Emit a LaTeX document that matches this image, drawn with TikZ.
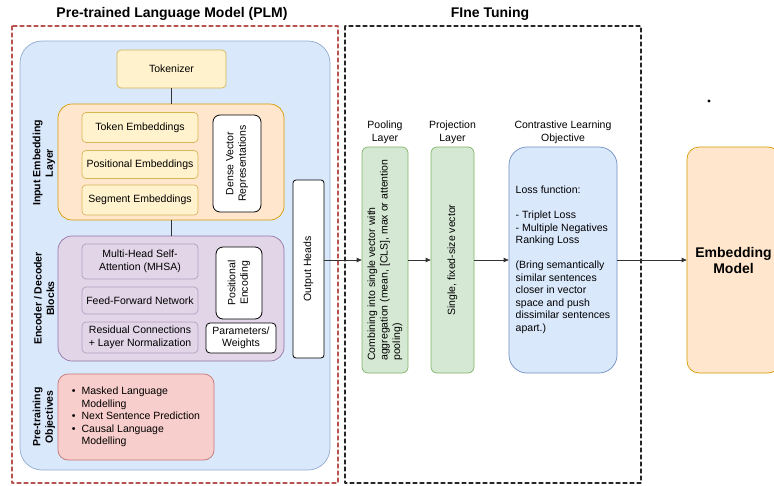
\documentclass[tikz,border=0pt]{standalone}
\usepackage{fontspec}
\setmainfont{Liberation Sans}
\usepackage{graphicx}
\usetikzlibrary{arrows.meta, positioning}
\definecolor{plmblue}{HTML}{DAE8FC}
\definecolor{plmline}{HTML}{6C8EBF}
\definecolor{tokyellow}{HTML}{FFF2CC}
\definecolor{tokline}{HTML}{D6B656}
\definecolor{embpeach}{HTML}{FFE6CC}
\definecolor{embline}{HTML}{D79B00}
\definecolor{encpurple}{HTML}{E1D5E7}
\definecolor{encline}{HTML}{9673A6}
\definecolor{objred}{HTML}{F8CECC}
\definecolor{objline}{HTML}{B85450}
\definecolor{poolgreen}{HTML}{D5E8D4}
\definecolor{poolline}{HTML}{82B366}
\newcommand{\vtext}[1]{\rotatebox{90}{\begin{tabular}{@{}c@{}}#1\end{tabular}}}
\newcommand{\vtextl}[1]{\rotatebox{90}{\begin{tabular}{@{}l@{}}#1\end{tabular}}}

\begin{document}
\begin{tikzpicture}[x=1pt, y=-1pt, line cap=round, line join=round, >={Triangle[length=5pt,width=4.5pt]},
	every node/.style={font=\fontsize{10.5}{12.5}\selectfont},
	box/.style={draw, rounded corners=4pt, inner sep=1pt, align=center, line width=0.7pt},
	ybox/.style={box, fill=tokyellow, draw=tokline},
	obox/.style={box, fill=embpeach, draw=embline, rounded corners=14pt},
	pbox/.style={box, fill=encpurple, draw=encline, rounded corners=14pt},
	pinbox/.style={box, fill=encpurple, draw=encline!70},
	wbox/.style={box, fill=white, draw=black, line width=0.8pt},
	rbox/.style={box, fill=objred, draw=objline!80},
	gbox/.style={box, fill=poolgreen, draw=poolline, rounded corners=6pt},
	bbox/.style={box, fill=plmblue, draw=plmline, rounded corners=18pt},
	title/.style={font=\fontsize{14}{16}\selectfont\bfseries},
	sidelabel/.style={rotate=90, align=center, font=\fontsize{10.5}{12.5}\selectfont\bfseries},
	toplabel/.style={align=center, inner sep=1pt},
	flow/.style={->, black!80, line width=0.7pt}]
	\useasboundingbox (0,0) rectangle (774,485);
	\clip (0,0) rectangle (774,485);

	% frames and titles
	\draw[objline, line width=1.2pt, dash pattern=on 4pt off 3pt] (12,26) rectangle (338,483);
	\draw[black!85, line width=1.2pt, dash pattern=on 4pt off 3pt] (345,26) rectangle (641,483);
	\draw[fill=plmblue, draw=plmline!75, rounded corners=22pt, line width=0.7pt] (20,41) rectangle (330,470);
	\node[title] (plmtitle) at (172,14) {Pre-trained Language Model (PLM)};
	\node[title] (fttitle) at (490,14) {FIne Tuning};

	% tokenizer and input embedding layer
	\node[ybox, minimum width=109pt, minimum height=38pt] (tok) at (171.5,69) {Tokenizer};
	\node[obox, minimum width=226pt, minimum height=116pt] (inemb) at (171,162) {};
	\node[ybox, minimum width=116pt, minimum height=30pt] (tokemb) at (140,127.5) {Token Embeddings};
	\node[ybox, minimum width=116pt, minimum height=28pt] (posemb) at (140,164.5) {Positional Embeddings};
	\node[ybox, minimum width=116pt, minimum height=30pt] (segemb) at (140,200) {Segment Embeddings};
	\node[wbox, minimum width=48pt, minimum height=97pt, rounded corners=7pt] (dense) at (237,163.5) {\vtext{Dense Vector\\Representations}};
	\node[sidelabel] (inlabel) at (44,163) {Input Embedding\\Layer};

	% encoder / decoder blocks
	\node[pbox, minimum width=226pt, minimum height=125pt] (enc) at (171,298.5) {};
	\node[pinbox, minimum width=116pt, minimum height=35pt] (mhsa) at (140,261.5) {Multi-Head Self-\\Attention (MHSA)};
	\node[pinbox, minimum width=116pt, minimum height=27pt] (ffn) at (140,300.5) {Feed-Forward Network};
	\node[pinbox, minimum width=116pt, minimum height=31pt] (resnorm) at (140,337.5) {Residual Connections\\+ Layer Normalization};
	\node[wbox, minimum width=46pt, minimum height=72pt, rounded corners=7pt] (posenc) at (239,283) {\vtext{Positional\\Encoding}};
	\node[wbox, minimum width=70pt, minimum height=30pt] (params) at (241,338) {Parameters/\\Weights};
	\node[sidelabel] (enclabel) at (44,298.5) {Encoder / Decoder\\Blocks};

	% pre-training objectives
	\node[rbox, minimum width=156pt, minimum height=86pt, rounded corners=10pt] (pretr) at (136,417) {\begin{tabular}{@{}l@{\hspace{6pt}}l@{}}\textbullet & Masked Language\\ & Modelling\\ \textbullet & Next Sentence Prediction\\ \textbullet & Causal Language\\ & Modelling\end{tabular}};
	\node[sidelabel] (prelabel) at (44,417) {Pre-training\\Objectives};

	\node[wbox, minimum width=31pt, minimum height=178pt, rounded corners=3pt] (outh) at (308.5,269) {\vtext{Output Heads}};

	% fine tuning
	\node[gbox, minimum width=46pt, minimum height=226pt] (pool) at (385,260) {\vtextl{Combining into single vector with\\aggregation (mean, [CLS], max or attention\\pooling)}};
	\node[gbox, minimum width=43pt, minimum height=226pt] (proj) at (452.5,260) {\vtext{Single, fixed-size vector}};
	\node[bbox, minimum width=108pt, minimum height=226pt, align=left] (contr) at (563,260) {Loss function:\\[12.5pt]- Triplet Loss\\- Multiple Negatives\\Ranking Loss\\[12.5pt](Bring semantically\\similar sentences\\closer in vector\\space and push\\dissimilar sentences\\apart.)};
	\node[toplabel, above=2pt of pool] (poollabel) {Pooling\\Layer};
	\node[toplabel, above=2pt of proj] (projlabel) {Projection\\Layer};
	\node[toplabel, above=2pt of contr] (contrlabel) {Contrastive Learning\\Objective};
	\node[obox, minimum width=93pt, minimum height=226pt, rounded corners=12pt, font=\fontsize{14}{16}\selectfont\bfseries] (embm) at (733.5,260) {Embedding\\Model};
	\fill (709,101) circle (1.6pt);

	% connectors
	\draw[black!80, line width=0.7pt] (tok.south) -- (tok.south |- inemb.north);
	\draw[black!80, line width=0.7pt] (inemb.south) -- (enc.north);
	\draw[flow] (outh.east |- pool.west) -- (pool.west);
	\draw[flow] (pool) -- (proj);
	\draw[flow] (proj) -- (contr);
	\draw[flow] (contr) -- (embm);
\end{tikzpicture}
\end{document}
